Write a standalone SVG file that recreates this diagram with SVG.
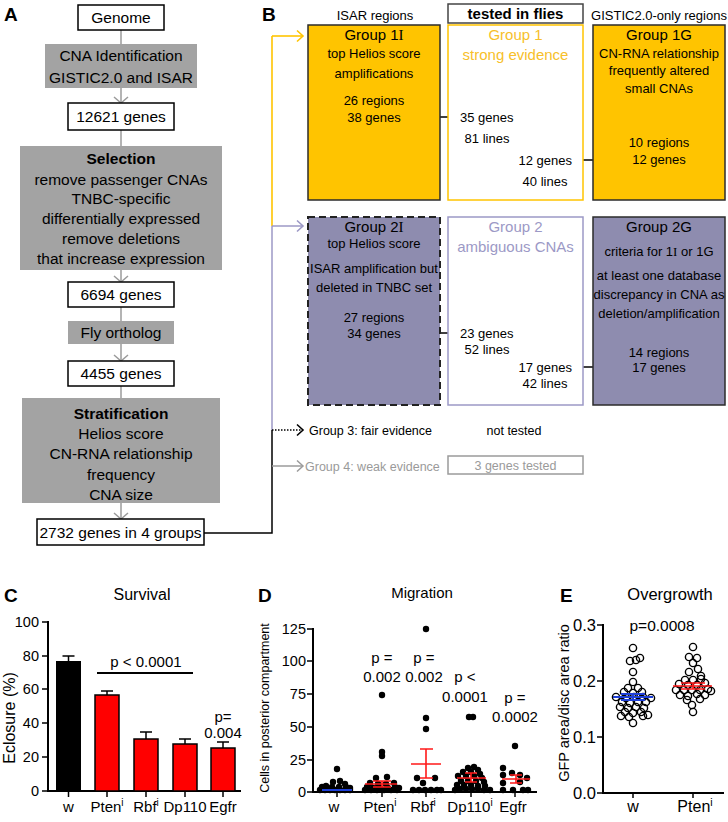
<svg xmlns="http://www.w3.org/2000/svg" width="728" height="822" viewBox="0 0 728 822">
<style>
text{font-family:"Liberation Sans",Arial,sans-serif;fill:#000}
.m{text-anchor:middle}
.e{text-anchor:end}
.fa{font-size:15.5px}
.fb{font-size:13px}
.fh{font-size:15px}
.fg{font-size:12.5px}
.bold{font-weight:bold}
.pl{font-size:19px;font-weight:bold}
.sf{font-family:"Liberation Serif","Times New Roman",serif}
.wbox{fill:#fff;stroke:#000;stroke-width:1.5}
.gbox{fill:#a3a3a3}
.gl{stroke:#9b9b9b;stroke-width:1.5;fill:none}
.yel{fill:#ffc400;stroke:#2b2b2b;stroke-width:1.5}
.lav{fill:#8e8caf;stroke:#2b2b2b;stroke-width:1.5}
.ytxt{fill:#f7c02a}
.ltxt{fill:#9c99c6}
.gtxt{fill:#9a9a9a}
.ax{stroke:#000;stroke-width:2;fill:none}
.tk{stroke:#000;stroke-width:1.5}
.bar{fill:#ff0000;stroke:#000;stroke-width:1.5}
.eb{stroke:#000;stroke-width:1.5;fill:none}
.red{stroke:#ff1a1a;stroke-width:1.6;fill:none}
.blue{stroke:#1e3fd8;stroke-width:2;fill:none}
.oc{fill:none;stroke:#000;stroke-width:1.4}
</style>
<defs>
<marker id="mA" viewBox="-8 -8 16 16" refX="0" refY="0" markerWidth="16" markerHeight="16" markerUnits="userSpaceOnUse" orient="auto"><path d="M-6,-7 L0,0 L-6,7" fill="none" stroke="#9b9b9b" stroke-width="1.5"/></marker>
<marker id="mY" viewBox="-8 -8 16 16" refX="0" refY="0" markerWidth="16" markerHeight="16" markerUnits="userSpaceOnUse" orient="auto"><path d="M-6,-5.5 L0,0 L-6,5.5" fill="none" stroke="#ffc400" stroke-width="1.6"/></marker>
<marker id="mL" viewBox="-8 -8 16 16" refX="0" refY="0" markerWidth="16" markerHeight="16" markerUnits="userSpaceOnUse" orient="auto"><path d="M-6,-5.5 L0,0 L-6,5.5" fill="none" stroke="#9c99c6" stroke-width="1.6"/></marker>
<marker id="mK" viewBox="-8 -8 16 16" refX="0" refY="0" markerWidth="16" markerHeight="16" markerUnits="userSpaceOnUse" orient="auto"><path d="M-6,-5.5 L0,0 L-6,5.5" fill="none" stroke="#000" stroke-width="1.6"/></marker>
<marker id="mG" viewBox="-8 -8 16 16" refX="0" refY="0" markerWidth="16" markerHeight="16" markerUnits="userSpaceOnUse" orient="auto"><path d="M-6,-5.5 L0,0 L-6,5.5" fill="none" stroke="#9b9b9b" stroke-width="1.5"/></marker>
</defs>
<rect width="728" height="822" fill="#fff"/>

<!-- Panel labels -->
<text class="pl" x="4" y="21">A</text>
<text class="pl" x="262" y="21">B</text>
<text class="pl" x="4" y="602">C</text>
<text class="pl" x="258" y="602">D</text>
<text class="pl" x="560" y="602">E</text>

<!-- Connectors -->
<g id="connectors">
<line class="gl" x1="121" y1="30" x2="121" y2="44"/>
<line class="gl" x1="121" y1="88" x2="121" y2="103" marker-end="url(#mA)"/>
<line class="gl" x1="121" y1="130" x2="121" y2="146"/>
<line class="gl" x1="121" y1="270" x2="121" y2="282" marker-end="url(#mA)"/>
<line class="gl" x1="121" y1="307" x2="121" y2="321"/>
<line class="gl" x1="121" y1="344" x2="121" y2="361" marker-end="url(#mA)"/>
<line class="gl" x1="121" y1="386" x2="121" y2="398"/>
<line class="gl" x1="121" y1="503" x2="121" y2="519" marker-end="url(#mA)"/>
<polyline points="204,533 272,533 272,430" fill="none" stroke="#000" stroke-width="1.5"/>
<line x1="272" y1="430" x2="272" y2="226" stroke="#9c99c6" stroke-width="1.5"/>
<line x1="272" y1="226" x2="272" y2="36" stroke="#ffc400" stroke-width="1.6"/>
<line x1="272" y1="36" x2="303" y2="36" stroke="#ffc400" stroke-width="1.6" marker-end="url(#mY)"/>
<line x1="272" y1="226" x2="303" y2="226" stroke="#9c99c6" stroke-width="1.5" marker-end="url(#mL)"/>
<line x1="272" y1="430" x2="302" y2="430" stroke="#000" stroke-width="1.3" stroke-dasharray="1.5,1.5"/>
<line x1="300" y1="430" x2="303" y2="430" stroke="none" marker-end="url(#mK)"/>
<line x1="272" y1="466" x2="303" y2="466" stroke="#9b9b9b" stroke-width="1.5" marker-end="url(#mG)"/>
<line x1="408" y1="117" x2="458" y2="117" stroke="#000" stroke-width="1.5" marker-end="url(#mY)"/>
<line x1="623" y1="160" x2="573" y2="160" stroke="#000" stroke-width="1.5" marker-end="url(#mY)"/>
<line x1="408" y1="333" x2="458" y2="333" stroke="#000" stroke-width="1.5" marker-end="url(#mL)"/>
<line x1="625" y1="367" x2="573" y2="367" stroke="#000" stroke-width="1.5" marker-end="url(#mL)"/>
</g>

<!-- Panel A nodes -->
<g id="genome"><rect class="wbox" x="78" y="5" width="86" height="25"/><text class="m fa" x="121" y="23">Genome</text></g>
<g id="cna"><rect class="gbox" x="45" y="44" width="152" height="44"/><text class="m fa" x="121" y="61">CNA Identification</text><text class="m fa" x="121" y="83">GISTIC2.0 and ISAR</text></g>
<g id="g12621"><rect class="wbox" x="68" y="103" width="106" height="27"/><text class="m fa" x="121" y="122">12621 genes</text></g>
<g id="selection"><rect class="gbox" x="20" y="146" width="202" height="124"/>
<text class="m fa bold" x="121" y="164">Selection</text>
<text class="m fa" x="121" y="185">remove passenger CNAs</text>
<text class="m fa" x="121" y="204">TNBC-specific</text>
<text class="m fa" x="121" y="224">differentially expressed</text>
<text class="m fa" x="121" y="244">remove deletions</text>
<text class="m fa" x="121" y="264">that increase expression</text></g>
<g id="g6694"><rect class="wbox" x="68" y="282" width="106" height="25"/><text class="m fa" x="121" y="300">6694 genes</text></g>
<g id="fly"><rect class="gbox" x="68" y="321" width="106" height="23"/><text class="m fa" x="121" y="338">Fly ortholog</text></g>
<g id="g4455"><rect class="wbox" x="68" y="361" width="106" height="25"/><text class="m fa" x="121" y="379">4455 genes</text></g>
<g id="strat"><rect class="gbox" x="22" y="398" width="198" height="105"/>
<text class="m fa bold" x="121" y="419">Stratification</text>
<text class="m fa" x="121" y="439">Helios score</text>
<text class="m fa" x="121" y="459">CN-RNA relationship</text>
<text class="m fa" x="121" y="480">frequency</text>
<text class="m fa" x="121" y="500">CNA size</text></g>
<g id="g2732"><rect class="wbox" x="37" y="519" width="167" height="26"/><text class="m fa" x="120.5" y="538">2732 genes in 4 groups</text></g>

<!-- Panel B headers -->
<g id="hdr-isar"><text class="m fb" x="375" y="19.5">ISAR regions</text></g>
<g id="hdr-tested"><rect x="448" y="4" width="135" height="19" fill="#fff" stroke="#444" stroke-width="1.5"/><text class="m fh bold" x="515.5" y="19">tested in flies</text></g>
<g id="hdr-gistic"><text class="m fb" x="659" y="19.5">GISTIC2.0-only regions</text></g>

<!-- Group 1 row -->
<g id="group1I"><rect class="yel" x="308" y="25" width="132" height="175"/>
<text class="m fh" x="374" y="40">Group 1<tspan class="sf">I</tspan></text>
<text class="m fb" x="374" y="58">top Helios score</text>
<text class="m fb" x="374" y="78">amplifications</text>
<text class="m fb" x="374" y="105">26 regions</text>
<text class="m fb" x="374" y="122">38 genes</text></g>
<g id="group1"><rect x="448" y="25" width="135" height="175" fill="#fff" stroke="#ffc400" stroke-width="1.5"/>
<text class="m fh ytxt" x="515.5" y="40">Group 1</text>
<text class="m fh ytxt" x="515.5" y="60">strong evidence</text>
<text class="fb" x="460" y="122">35 genes</text>
<text class="m fb" x="487" y="143">81 lines</text>
<text class="e fb" x="572" y="165">12 genes</text>
<text class="m fb" x="545" y="186">40 lines</text></g>
<g id="group1G"><rect class="yel" x="593" y="25" width="132" height="175"/>
<text class="m fh" x="659" y="40">Group 1G</text>
<text class="m fb" x="659" y="58">CN-RNA relationship</text>
<text class="m fb" x="659" y="75">frequently altered</text>
<text class="m fb" x="659" y="93">small CNAs</text>
<text class="m fb" x="659" y="147">10 regions</text>
<text class="m fb" x="659" y="164">12 genes</text></g>

<!-- Group 2 row -->
<g id="group2I"><rect x="308" y="217" width="132" height="188" fill="#8e8caf" stroke="#222" stroke-width="2" stroke-dasharray="7,4"/>
<text class="m fh" x="374" y="232">Group 2<tspan class="sf">I</tspan></text>
<text class="m fb" x="374" y="248">top Helios score</text>
<text class="m fb" x="374" y="273">ISAR amplification but</text>
<text class="m fb" x="374" y="292">deleted in TNBC set</text>
<text class="m fb" x="374" y="322">27 regions</text>
<text class="m fb" x="374" y="338">34 genes</text></g>
<g id="group2"><rect x="448" y="217" width="135" height="188" fill="#fff" stroke="#9c99c6" stroke-width="1.5"/>
<text class="m fh ltxt" x="515.5" y="232">Group 2</text>
<text class="m fh ltxt" x="515.5" y="252">ambiguous CNAs</text>
<text class="fb" x="460" y="338">23 genes</text>
<text class="m fb" x="487" y="354">52 lines</text>
<text class="e fb" x="572" y="372">17 genes</text>
<text class="m fb" x="545" y="388">42 lines</text></g>
<g id="group2G"><rect class="lav" x="593" y="217" width="132" height="188"/>
<text class="m fh" x="659" y="232">Group 2G</text>
<text class="m fb" x="659" y="256">criteria for 1<tspan class="sf">I</tspan> or 1G</text>
<text class="m fb" x="659" y="280">at least one database</text>
<text class="m fb" x="659" y="299">discrepancy in CNA as</text>
<text class="m fb" x="659" y="318">deletion/amplification</text>
<text class="m fb" x="659" y="357">14 regions</text>
<text class="m fb" x="659" y="372">17 genes</text></g>

<!-- Group 3 / 4 -->
<g id="group3"><text class="fg" x="309" y="435">Group 3: fair evidence</text><text class="m fg" x="514" y="435">not tested</text></g>
<g id="group4"><text class="fg gtxt" x="305" y="471">Group 4: weak evidence</text>
<rect x="448" y="456" width="135" height="18" fill="#fff" stroke="#9b9b9b" stroke-width="1.5"/>
<text class="m fg gtxt" x="515.5" y="470">3 genes tested</text></g>

<!-- Panel C -->
<g id="panelC">
<text class="m" x="142" y="600" font-size="16">Survival</text>
<text class="m" font-size="16" transform="translate(15,718) rotate(-90)">Eclosure (%)</text>
<line class="ax" x1="48" y1="621" x2="48" y2="792"/>
<line class="ax" x1="47" y1="791" x2="241" y2="791"/>
<g class="tk"><line x1="42" y1="622" x2="48" y2="622"/><line x1="42" y1="656" x2="48" y2="656"/><line x1="42" y1="689" x2="48" y2="689"/><line x1="42" y1="723" x2="48" y2="723"/><line x1="42" y1="757" x2="48" y2="757"/><line x1="42" y1="791" x2="48" y2="791"/>
<line x1="68.5" y1="791" x2="68.5" y2="797"/><line x1="107" y1="791" x2="107" y2="797"/><line x1="146" y1="791" x2="146" y2="797"/><line x1="185" y1="791" x2="185" y2="797"/><line x1="223" y1="791" x2="223" y2="797"/></g>
<g font-size="14.5"><text class="e" x="39" y="627">100</text><text class="e" x="39" y="661">80</text><text class="e" x="39" y="694">60</text><text class="e" x="39" y="728">40</text><text class="e" x="39" y="762">20</text><text class="e" x="39" y="796">0</text></g>
<rect x="56" y="661" width="25" height="130" fill="#000"/>
<rect class="bar" x="95" y="695" width="24" height="96"/>
<rect class="bar" x="134" y="739" width="24" height="52"/>
<rect class="bar" x="173" y="744" width="24" height="47"/>
<rect class="bar" x="211" y="748" width="24" height="43"/>
<path class="eb" d="M68.5,661V656M62.5,656H74.5M107,695V691M101,691H113M146,739V732M140,732H152M185,744V739M179,739H191M223,748V742M217,742H229"/>
<line x1="97" y1="673" x2="193" y2="673" stroke="#000" stroke-width="2"/>
<text class="m fh" x="146" y="667">p &lt; 0.0001</text>
<text class="m fh" x="223" y="722">p=</text>
<text class="m fh" x="223" y="738">0.004</text>
<g class="fh"><text class="m" x="68.5" y="812">w</text><text class="m" x="107" y="812">Pten<tspan font-size="10" dy="-6">i</tspan></text><text class="m" x="146" y="812">Rbf<tspan font-size="10" dy="-6">i</tspan></text><text class="m" x="185" y="812">Dp110</text><text class="m" x="223" y="812">Egfr</text></g>
</g>

<!-- Panel D -->
<g id="panelD">
<text class="m fh" x="422" y="598">Migration</text>
<text class="m" font-size="12.5" transform="translate(269,708) rotate(-90)">Cells in posterior compartment</text>
<line class="ax" x1="313" y1="628" x2="313" y2="793"/>
<line class="ax" x1="312" y1="792" x2="537" y2="792"/>
<g class="tk"><line x1="307" y1="629" x2="313" y2="629"/><line x1="307" y1="661" x2="313" y2="661"/><line x1="307" y1="694" x2="313" y2="694"/><line x1="307" y1="727" x2="313" y2="727"/><line x1="307" y1="760" x2="313" y2="760"/><line x1="307" y1="792" x2="313" y2="792"/>
<line x1="337" y1="792" x2="337" y2="797"/><line x1="382" y1="792" x2="382" y2="797"/><line x1="426" y1="792" x2="426" y2="797"/><line x1="471" y1="792" x2="471" y2="797"/><line x1="515" y1="792" x2="515" y2="797"/></g>
<g font-size="14.5"><text class="e" x="306" y="634">125</text><text class="e" x="306" y="666">100</text><text class="e" x="306" y="699">75</text><text class="e" x="306" y="732">50</text><text class="e" x="306" y="765">25</text><text class="e" x="306" y="797">0</text></g>
<g fill="#000">
<circle cx="337" cy="769" r="3.2"/><circle cx="333" cy="782" r="3.2"/><circle cx="340" cy="781" r="3.2"/><circle cx="345" cy="784" r="3.2"/><circle cx="326" cy="786" r="3.2"/><circle cx="332" cy="787" r="3.2"/><circle cx="339" cy="787" r="3.2"/><circle cx="346" cy="787" r="3.2"/><circle cx="350" cy="788" r="3.2"/><circle cx="320" cy="790" r="3.2"/><circle cx="325" cy="790" r="3.2"/><circle cx="330" cy="790" r="3.2"/><circle cx="335" cy="790" r="3.2"/><circle cx="340" cy="790" r="3.2"/><circle cx="345" cy="790" r="3.2"/><circle cx="350" cy="790" r="3.2"/><circle cx="322" cy="787" r="3.2"/>
<circle cx="382" cy="695" r="3.2"/><circle cx="382" cy="752" r="3.2"/><circle cx="382" cy="756" r="3.2"/><circle cx="376" cy="778" r="3.2"/><circle cx="387" cy="777" r="3.2"/><circle cx="370" cy="783" r="3.2"/><circle cx="378" cy="784" r="3.2"/><circle cx="386" cy="784" r="3.2"/><circle cx="394" cy="783" r="3.2"/><circle cx="367" cy="787" r="3.2"/><circle cx="373" cy="788" r="3.2"/><circle cx="380" cy="788" r="3.2"/><circle cx="388" cy="788" r="3.2"/><circle cx="395" cy="787" r="3.2"/><circle cx="399" cy="788" r="3.2"/><circle cx="365" cy="790" r="3.2"/><circle cx="371" cy="790" r="3.2"/><circle cx="377" cy="790" r="3.2"/><circle cx="384" cy="790" r="3.2"/><circle cx="391" cy="790" r="3.2"/><circle cx="397" cy="790" r="3.2"/>
<circle cx="426" cy="629" r="3.2"/><circle cx="426" cy="718" r="3.2"/><circle cx="426" cy="729" r="3.2"/><circle cx="417" cy="778" r="3.2"/><circle cx="435" cy="778" r="3.2"/><circle cx="423" cy="783" r="3.2"/><circle cx="413" cy="790" r="3.2"/><circle cx="419" cy="790" r="3.2"/><circle cx="425" cy="790" r="3.2"/><circle cx="431" cy="790" r="3.2"/><circle cx="437" cy="790" r="3.2"/><circle cx="441" cy="790" r="3.2"/>
<circle cx="469" cy="717" r="3.2"/><circle cx="473" cy="717" r="3.2"/><circle cx="468" cy="768" r="3.2"/><circle cx="474" cy="767" r="3.2"/><circle cx="478" cy="770" r="3.2"/><circle cx="463" cy="772" r="3.2"/><circle cx="471" cy="772" r="3.2"/><circle cx="480" cy="774" r="3.2"/><circle cx="458" cy="776" r="3.2"/><circle cx="466" cy="776" r="3.2"/><circle cx="474" cy="776" r="3.2"/><circle cx="482" cy="778" r="3.2"/><circle cx="461" cy="781" r="3.2"/><circle cx="468" cy="781" r="3.2"/><circle cx="476" cy="781" r="3.2"/><circle cx="484" cy="782" r="3.2"/><circle cx="457" cy="785" r="3.2"/><circle cx="464" cy="785" r="3.2"/><circle cx="471" cy="785" r="3.2"/><circle cx="478" cy="786" r="3.2"/><circle cx="485" cy="786" r="3.2"/><circle cx="455" cy="790" r="3.2"/><circle cx="460" cy="789" r="3.2"/><circle cx="466" cy="789" r="3.2"/><circle cx="472" cy="789" r="3.2"/><circle cx="478" cy="789" r="3.2"/><circle cx="484" cy="790" r="3.2"/><circle cx="490" cy="790" r="3.2"/>
<circle cx="515" cy="746" r="3.2"/><circle cx="503" cy="768" r="3.2"/><circle cx="503" cy="775" r="3.2"/><circle cx="512" cy="773" r="3.2"/><circle cx="520" cy="775" r="3.2"/><circle cx="527" cy="778" r="3.2"/><circle cx="503" cy="783" r="3.2"/><circle cx="520" cy="782" r="3.2"/><circle cx="503" cy="790" r="3.2"/><circle cx="513" cy="790" r="3.2"/><circle cx="523" cy="790" r="3.2"/><circle cx="528" cy="790" r="3.2"/>
</g>
<line class="blue" x1="322" y1="790" x2="352" y2="790"/>
<path class="red" d="M365,784H397M382,781V787M373,781H391M373,787H391"/>
<path class="red" d="M411,764H441M426,749V778M420,749H433M420,778H433"/>
<path class="red" d="M457,778H486M471,773V782M465,773H477M465,782H477"/>
<path class="red" d="M502,779H530M516,775V783M510,775H522M510,783H522"/>
<text class="m fh" x="382" y="663">p =</text><text class="m fh" x="382" y="682">0.002</text>
<text class="m fh" x="424" y="663">p =</text><text class="m fh" x="424" y="682">0.002</text>
<text class="m fh" x="465" y="682">p &lt;</text><text class="m fh" x="465" y="702">0.0001</text>
<text class="m fh" x="515" y="703">p =</text><text class="m fh" x="515" y="722">0.0002</text>
<g class="fh"><text class="m" x="334" y="812">w</text><text class="m" x="380" y="812">Pten<tspan font-size="10" dy="-6">i</tspan></text><text class="m" x="423" y="812">Rbf<tspan font-size="10" dy="-6">i</tspan></text><text class="m" x="470" y="812">Dp110<tspan font-size="10" dy="-6">i</tspan></text><text class="m" x="513" y="812">Egfr</text></g>
</g>

<!-- Panel E -->
<g id="panelE">
<text class="m" x="670" y="600" font-size="16.5">Overgrowth</text>
<text class="m" font-size="14.5" transform="translate(569,703) rotate(-90)">GFP area/disc area ratio</text>
<line class="ax" x1="603" y1="624" x2="603" y2="794"/>
<line class="ax" x1="602" y1="793" x2="724" y2="793"/>
<g class="tk"><line x1="597" y1="625" x2="603" y2="625"/><line x1="597" y1="681" x2="603" y2="681"/><line x1="597" y1="737" x2="603" y2="737"/><line x1="597" y1="793" x2="603" y2="793"/>
<line x1="633" y1="793" x2="633" y2="798"/><line x1="693" y1="793" x2="693" y2="798"/></g>
<g font-size="16.5"><text class="e" x="596" y="631">0.3</text><text class="e" x="596" y="687">0.2</text><text class="e" x="596" y="743">0.1</text><text class="e" x="596" y="799">0.0</text></g>
<text class="m" x="662" y="631" font-size="15.5">p=0.0008</text>
<g class="oc">
<circle cx="633" cy="648" r="3.6"/><circle cx="630" cy="661" r="3.6"/><circle cx="636" cy="660" r="3.6"/><circle cx="640" cy="658" r="3.6"/><circle cx="633" cy="672" r="3.6"/><circle cx="633" cy="682" r="3.6"/><circle cx="628" cy="688" r="3.6"/><circle cx="638" cy="688" r="3.6"/><circle cx="624" cy="692" r="3.6"/><circle cx="633" cy="693" r="3.6"/><circle cx="642" cy="692" r="3.6"/><circle cx="616" cy="697" r="3.6"/><circle cx="626" cy="698" r="3.6"/><circle cx="634" cy="697" r="3.6"/><circle cx="643" cy="697" r="3.6"/><circle cx="651" cy="698" r="3.6"/><circle cx="622" cy="702" r="3.6"/><circle cx="630" cy="703" r="3.6"/><circle cx="638" cy="702" r="3.6"/><circle cx="646" cy="702" r="3.6"/><circle cx="620" cy="707" r="3.6"/><circle cx="628" cy="708" r="3.6"/><circle cx="636" cy="707" r="3.6"/><circle cx="644" cy="708" r="3.6"/><circle cx="625" cy="712" r="3.6"/><circle cx="633" cy="713" r="3.6"/><circle cx="641" cy="712" r="3.6"/><circle cx="621" cy="716" r="3.6"/><circle cx="629" cy="717" r="3.6"/><circle cx="643" cy="716" r="3.6"/><circle cx="648" cy="715" r="3.6"/><circle cx="633" cy="723" r="3.6"/>
<circle cx="693" cy="647" r="3.6"/><circle cx="689" cy="657" r="3.6"/><circle cx="697" cy="658" r="3.6"/><circle cx="693" cy="663" r="3.6"/><circle cx="689" cy="672" r="3.6"/><circle cx="698" cy="669" r="3.6"/><circle cx="701" cy="676" r="3.6"/><circle cx="685" cy="680" r="3.6"/><circle cx="693" cy="680" r="3.6"/><circle cx="701" cy="679" r="3.6"/><circle cx="679" cy="684" r="3.6"/><circle cx="688" cy="685" r="3.6"/><circle cx="697" cy="685" r="3.6"/><circle cx="705" cy="683" r="3.6"/><circle cx="676" cy="690" r="3.6"/><circle cx="684" cy="690" r="3.6"/><circle cx="692" cy="690" r="3.6"/><circle cx="700" cy="690" r="3.6"/><circle cx="708" cy="689" r="3.6"/><circle cx="680" cy="695" r="3.6"/><circle cx="688" cy="696" r="3.6"/><circle cx="697" cy="694" r="3.6"/><circle cx="705" cy="695" r="3.6"/><circle cx="711" cy="691" r="3.6"/><circle cx="687" cy="700" r="3.6"/><circle cx="700" cy="699" r="3.6"/><circle cx="692" cy="705" r="3.6"/><circle cx="693" cy="712" r="3.6"/>
</g>
<path class="blue" d="M613,697H653M633,694V700M621,694H645M621,700H645"/>
<path class="red" d="M673,686H712M693,683V689M681,683H705M681,689H705"/>
<g font-size="16"><text class="m" x="633" y="812">w</text><text class="m" x="695" y="812">Pten<tspan font-size="10.5" dy="-6">i</tspan></text></g>
</g>
</svg>
